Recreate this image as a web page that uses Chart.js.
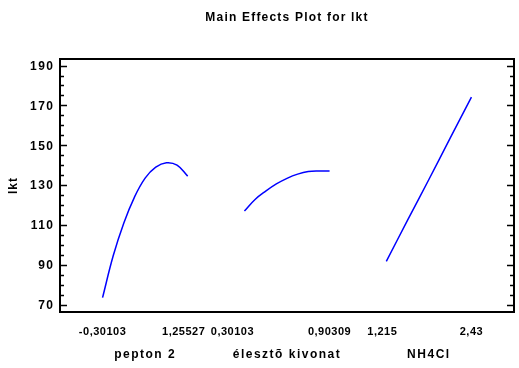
<!DOCTYPE html>
<html>
<head>
<meta charset="utf-8">
<script src="https://cdn.jsdelivr.net/npm/chart.js@4"></script>
<style>
html,body{margin:0;padding:0;background:#fff;}
#wrap{width:519px;height:368px;position:relative;}
</style>
</head>
<body>
<div id="wrap"><canvas id="c" width="519" height="368"></canvas></div>
<script>
// ---- data ----
const chartTitle = "Main Effects Plot for lkt";
const yTitle = "lkt";
const factorNames = ["pepton 2", "élesztõ kivonat", "NH4Cl"];
const factorLow = [-0.30103, 0.30103, 1.215];
const factorHigh = [1.25527, 0.90309, 2.43];
const factorTickLabels = [["-0,30103", "1,25527"], ["0,30103", "0,90309"], ["1,215", "2,43"]];

const peptonX = [-0.30103, -0.10649, 0.08805, 0.28258, 0.47712, 0.67166, 0.86620, 1.06073, 1.25527];
const peptonY = [73.5, 94.5, 111.0, 124.0, 133.5, 139.0, 141.2, 140.0, 134.5];

const elesztoX = [0.30103, 0.37629, 0.45155, 0.52680, 0.60206, 0.67732, 0.75258, 0.82783, 0.90309];
const elesztoY = [117.0, 122.8, 127.0, 130.6, 133.4, 135.5, 136.8, 137.1, 137.1];

const nh4clX = [1.215, 1.51875, 1.8225, 2.12625, 2.43];
const nh4clY = [91.7, 112.4, 132.8, 153.6, 174.2];

const yMajorTicks = [70, 90, 110, 130, 150, 170, 190];
const yMinorStep = 5;

// ---- layout ----
const seriesX = [peptonX, elesztoX, nh4clX];
const seriesY = [peptonY, elesztoY, nh4clY];
const PANEL_START = 0.3, PANEL_LEN = 0.6;
function panelPos(k, x) {
  return k + PANEL_START + PANEL_LEN * (x - factorLow[k]) / (factorHigh[k] - factorLow[k]);
}
const datasets = seriesX.map((xs, k) => ({
  label: factorNames[k],
  data: xs.map((x, i) => ({x: panelPos(k, x), y: seriesY[k][i]})),
  borderColor: '#0000ff',
  borderWidth: 1.5,
  pointRadius: 0,
  fill: false,
  tension: 0.4
}));

const labelNudge = [[0, -4], [-12, 0], [-4, 0]];
const FONT = '"Liberation Sans", Arial, sans-serif';

function setSpacing(ctx, s) { if ('letterSpacing' in ctx) ctx.letterSpacing = s + 'px'; }

const decor = {
  id: 'decor',
  afterDraw(chart) {
    const ctx = chart.ctx;
    const a = chart.chartArea;
    const xs = chart.scales.x, ys = chart.scales.y;
    ctx.save();
    // frame
    ctx.strokeStyle = '#000';
    ctx.lineWidth = 2;
    ctx.strokeRect(a.left, a.top, a.right - a.left, a.bottom - a.top);
    // y ticks (inward) both sides
    ctx.lineWidth = 1.5;
    for (let v = yMajorTicks[0]; v <= yMajorTicks[yMajorTicks.length - 1] + 0.01; v += yMinorStep) {
      const py = Math.round(ys.getPixelForValue(v)) + 0.5;
      const major = yMajorTicks.includes(v);
      const len = major ? 7 : 4;
      ctx.beginPath();
      ctx.moveTo(a.left, py); ctx.lineTo(a.left + len, py);
      ctx.moveTo(a.right, py); ctx.lineTo(a.right - len, py);
      ctx.stroke();
    }
    ctx.fillStyle = '#000';
    // y tick labels
    ctx.font = 'bold 12px ' + FONT;
    ctx.textAlign = 'right';
    ctx.textBaseline = 'middle';
    setSpacing(ctx, 1.5);
    yMajorTicks.forEach(v => {
      ctx.fillText(String(v), a.left - 5.5, ys.getPixelForValue(v) + 1);
    });
    // x tick labels
    ctx.font = 'bold 11px ' + FONT;
    ctx.textAlign = 'center';
    setSpacing(ctx, 0.5);
    factorTickLabels.forEach((pair, k) => {
      const p0 = xs.getPixelForValue(panelPos(k, factorLow[k])) + labelNudge[k][0];
      const p1 = xs.getPixelForValue(panelPos(k, factorHigh[k])) + labelNudge[k][1];
      ctx.fillText(pair[0], p0, 331.5);
      ctx.fillText(pair[1], p1, 331.5);
    });
    // factor names
    ctx.font = 'bold 12px ' + FONT;
    setSpacing(ctx, 1.5);
    factorNames.forEach((n, k) => {
      const pc = xs.getPixelForValue(k + PANEL_START + PANEL_LEN / 2);
      ctx.fillText(n, pc, 355);
    });
    // title
    ctx.font = 'bold 12px ' + FONT;
    setSpacing(ctx, 1.2);
    ctx.fillText(chartTitle, (a.left + a.right) / 2, 18);
    // y title
    setSpacing(ctx, 1);
    ctx.save();
    ctx.translate(14, (a.top + a.bottom) / 2);
    ctx.rotate(-Math.PI / 2);
    ctx.fillText(yTitle, 0, 0);
    ctx.restore();
    ctx.restore();
  }
};

new Chart(document.getElementById('c'), {
  type: 'line',
  data: {datasets},
  options: {
    responsive: false,
    animation: false,
    layout: {padding: {left: 60, right: 5, top: 59, bottom: 56}},
    plugins: {legend: {display: false}, tooltip: {enabled: false}, title: {display: false}},
    scales: {
      x: {type: 'linear', min: 0, max: 3.2, display: false},
      y: {type: 'linear', min: 66.3, max: 193.3, display: false}
    }
  },
  plugins: [decor]
});
</script>
</body>
</html>
